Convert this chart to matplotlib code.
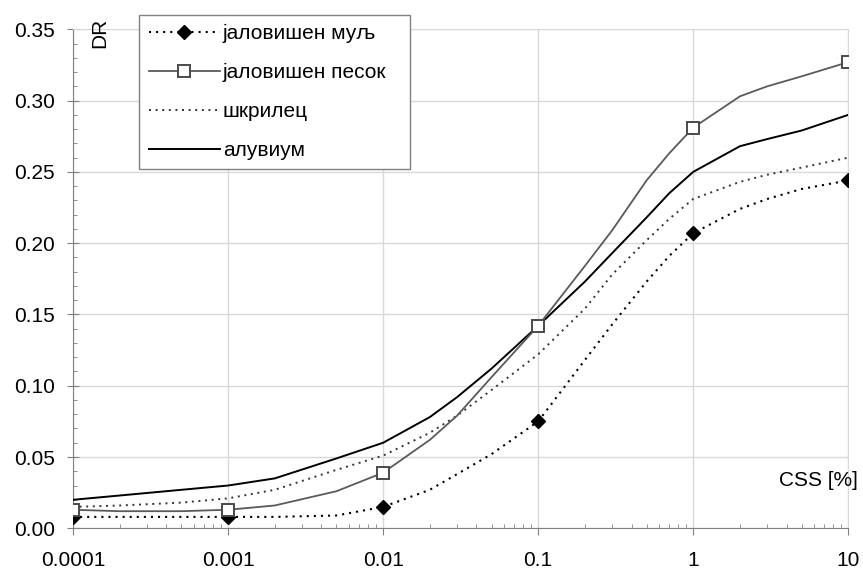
import matplotlib
matplotlib.use("Agg")
import matplotlib.pyplot as plt
from matplotlib.ticker import FixedLocator, FixedFormatter, MultipleLocator, NullFormatter, FormatStrFormatter

plt.rcParams['font.family'] = ['Liberation Sans', 'DejaVu Sans']

# CSS [%] values at which the curves were read
css = [1e-4, 2e-4, 5e-4, 1e-3, 2e-3, 5e-3, 0.01, 0.02, 0.03, 0.05, 0.1,
       0.2, 0.3, 0.5, 0.7, 1, 2, 3, 5, 10]

mud = [0.008, 0.008, 0.008, 0.008, 0.008, 0.009, 0.015, 0.027, 0.038, 0.052, 0.075,
       0.118, 0.143, 0.173, 0.191, 0.207, 0.224, 0.231, 0.238, 0.244]
sand = [0.013, 0.012, 0.012, 0.013, 0.016, 0.026, 0.039, 0.062, 0.079, 0.106, 0.142,
        0.184, 0.209, 0.244, 0.263, 0.281, 0.303, 0.310, 0.317, 0.327]
shale = [0.015, 0.016, 0.018, 0.021, 0.027, 0.041, 0.051, 0.067, 0.079, 0.097, 0.122,
         0.154, 0.178, 0.202, 0.217, 0.231, 0.243, 0.248, 0.253, 0.260]
alluvium = [0.020, 0.023, 0.027, 0.030, 0.035, 0.049, 0.060, 0.078, 0.092, 0.112, 0.142,
            0.173, 0.193, 0.218, 0.235, 0.250, 0.268, 0.273, 0.279, 0.290]

labels = ["јаловишен муљ", "јаловишен песок", "шкрилец", "алувиум"]
xticks = [1e-4, 1e-3, 1e-2, 1e-1, 1, 10]
xtick_labels = ["0.0001", "0.001", "0.01", "0.1", "1", "10"]

# markers only at the decades
marks = [css.index(v) for v in xticks]

fig = plt.figure(figsize=(8.63, 5.72), dpi=100)
ax = fig.add_axes([73 / 863, 1 - 528.3 / 572, 775.3 / 863, 499 / 572])

ax.plot(css, mud, color="black", lw=1.5, linestyle=(0, (1, 2.4)),
        marker="D", markersize=7, markevery=marks, markerfacecolor="black",
        markeredgecolor="black", label=labels[0], zorder=4)
ax.plot(css, sand, color="#5a5a5a", lw=1.3, marker="s", markersize=8,
        markevery=marks, markerfacecolor="white", markeredgecolor="#4a4a4a",
        markeredgewidth=1.4, label=labels[1], zorder=5)
ax.plot(css, shale, color="#333333", lw=1.4, linestyle=(0, (1, 2.4)),
        label=labels[2], zorder=3)
ax.plot(css, alluvium, color="black", lw=1.4, label=labels[3], zorder=3)

ax.set_xscale("log")
ax.set_xlim(1e-4, 10)
ax.set_ylim(0, 0.35)
ax.xaxis.set_major_locator(FixedLocator(xticks))
ax.xaxis.set_major_formatter(FixedFormatter(xtick_labels))
ax.xaxis.set_minor_formatter(NullFormatter())
ax.yaxis.set_major_locator(MultipleLocator(0.05))
ax.yaxis.set_minor_locator(MultipleLocator(0.01))
ax.yaxis.set_major_formatter(FormatStrFormatter("%.2f"))

ax.grid(True, which="major", color="#d9d9d9", lw=1)
ax.set_axisbelow(True)
for side in ("left", "bottom"):
    ax.spines[side].set_color("#808080")
for side in ("top", "right"):
    ax.spines[side].set_color("#d9d9d9")

ax.tick_params(axis="x", which="major", direction="out", length=5, color="#808080",
               labelsize=15, pad=11.5)
ax.tick_params(axis="x", which="minor", direction="in", length=3, color="#808080")
ax.tick_params(axis="y", which="major", direction="inout", length=9, color="#808080",
               labelsize=15, pad=8.5)
ax.tick_params(axis="y", which="minor", direction="in", length=3, color="#808080")

fig.text(100 / 863, 1 - 32.5 / 572, "DR", rotation=90, fontsize=15,
         ha="center", va="center")
fig.text(858 / 863, 1 - 481 / 572, "CSS [%]", fontsize=15, ha="right", va="center")

leg = ax.legend(loc="upper left", bbox_to_anchor=(139.3 / 863, 1 - 166 / 572,
                                                 271 / 863, 151 / 572),
                bbox_transform=fig.transFigure, mode="expand", fontsize=15,
                frameon=True, fancybox=False, framealpha=1, edgecolor="#808080",
                handlelength=3.4, handletextpad=0.15, labelspacing=0.95,
                borderpad=0.45, borderaxespad=0)
leg.get_frame().set_linewidth(1)
leg.set_zorder(10)

fig.savefig("out.png", dpi=100)
